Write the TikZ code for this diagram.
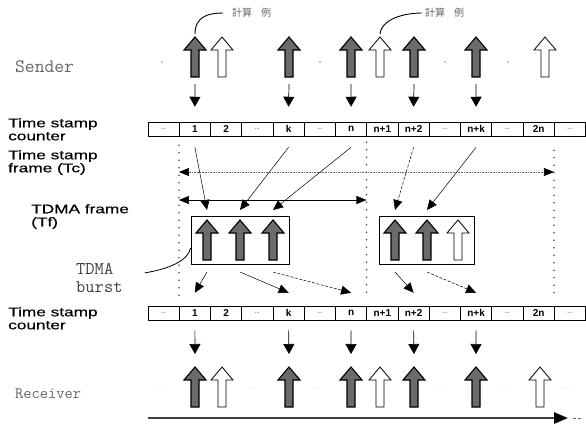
\documentclass[tikz,border=0pt]{standalone}
\usepackage{fontspec}
\setsansfont{Liberation Sans}
\newfontfamily\lblfont{Liberation Sans}[FakeStretch=1.38,FakeBold=0.5]
\newfontfamily\cjkfont{Noto Sans CJK JP}
\usetikzlibrary{arrows.meta,positioning,fit}
\newcommand{\gdots}{\textcolor{black!45}{\fontsize{6}{6}\selectfont...}}

\begin{document}
\begin{tikzpicture}[x=1pt,y=-1pt,
  uparr/.pic={
    \path[pic actions] (0,0) -- (11,13) -- (4,13) -- (4,40) -- (-4,40) -- (-4,13) -- (-11,13) -- cycle;
    \coordinate (-top) at (0,0);
    \coordinate (-bot) at (0,40);
    \coordinate (-nw) at (-11,0);
    \coordinate (-se) at (11,40);
  },
  garr/.style={fill=black!58, draw=black, line width=1.1pt},
  warr/.style={fill=white, draw=black, line width=0.8pt},
  cell/.style={draw, line width=0.5pt, minimum width=31.25pt, minimum height=14pt, inner sep=0pt,
    font=\sffamily\bfseries\fontsize{10}{10}\selectfont},
  lbl/.style={anchor=north west, align=left, inner sep=0pt, font=\lblfont\fontsize{12.5}{13}\selectfont},
  typelbl/.style={anchor=west, inner sep=0pt, text=black!60},
  cjk/.style={anchor=west, inner sep=0pt, text=black!60, font=\cjkfont\fontsize{10}{10}\selectfont},
  downarr/.style={line width=0.7pt, -{Triangle[length=10pt,width=11pt]}},
  slant/.style={line width=0.5pt, -{Triangle[length=10pt,width=9pt]}},
  slantd/.style={slant, dash pattern=on 3pt off 1.5pt},
  vdots/.style={line width=1.6pt, dash pattern=on 0pt off 7.5pt, line cap=round, black!70},
  tcline/.style={densely dotted, line width=0.6pt, black!60,
    {Triangle[length=10pt,width=8pt,black]}-{Triangle[length=10pt,width=8pt,black]}},
  tfline/.style={line width=0.6pt, {Triangle[length=10pt,width=8pt]}-{Triangle[length=10pt,width=8pt]}},
  burstbox/.style={draw, line width=0.8pt, inner xsep=5pt, inner ysep=4pt},
  timeaxis/.style={line width=2.5pt, black!75, -{Triangle[length=14pt,width=11pt,black]}}
]
\useasboundingbox (0,0) rectangle (586,424);

% left labels
\node[typelbl, font=\ttfamily\fontsize{19}{19}\selectfont] (sender) at (15,67) {Sender};
\node[lbl] (tsc1) at (8,118) {Time stamp\\counter};
\node[lbl] (tsf) at (8,150) {Time stamp\\frame (Tc)};
\node[lbl] (tdf) at (31,204) {TDMA frame\\(Tf)};
\node[anchor=north west, align=left, inner sep=0pt, text=black!75,
  font=\ttfamily\fontsize{18}{18}\selectfont] (burst) at (76,263) {TDMA\\burst};
\node[lbl] (tsc2) at (8,307) {Time stamp\\counter};
\node[typelbl, font=\ttfamily\fontsize{16}{16}\selectfont] (receiver) at (15,394) {Receiver};

% time stamp counters
\foreach \lab [count=\i from 0] in {\gdots,1,2,\gdots,k,\gdots,n,n+1,n+2,\gdots,n+k,\gdots,2n,\gdots}{
  \node[cell] (c1-\i) at ({163.6+31.25*\i},129) {\lab};
  \node[cell] (c2-\i) at ({163.6+31.25*\i},313) {\lab};
}

% sender
\foreach \x/\st [count=\i] in {195/garr,222/warr,289/garr,351/garr,380/warr,414/garr,476/garr,545/warr}
  \pic[\st] (s\i) at (\x,37) {uparr};
\foreach \x in {162,320,445,508}
  \fill[black!45] (\x,62) circle (0.8);

% example labels
\node[cjk] (ex1) at (232,13) {計算\hspace{0.9em}例};
\node[cjk] (ex2) at (425,13) {計算\hspace{0.9em}例};
\draw[line width=0.9pt] ([yshift=3pt]s1-top) .. controls +(0,-18) and +(-14,0) .. ([xshift=-9pt]ex1.west);
\draw[line width=0.9pt] ([yshift=3pt]s5-top) .. controls +(2,-16) and +(-16,0) .. ([xshift=-3pt]ex2.west);

\foreach \s/\c in {1/1,3/4,4/6,6/8,7/10}
  \draw[downarr] ([yshift=-7pt]s\s-bot) -- ([yshift=15pt]c1-\c.north);

% frame limits
\coordinate (tcy) at (0,172);
\coordinate (tfy) at (0,200);
\draw[vdots] ([yshift=-9pt]c1-1.south west) -- ([yshift=6pt]c2-1.north west);
\draw[vdots] ([yshift=-6pt]c1-7.south west) -- ([yshift=6pt]c2-7.north west);
\draw[vdots] ([yshift=-14pt]c1-13.south west) -- ([yshift=8pt]c2-13.north west);
\draw[tcline] (c1-1.south west |- tcy) -- (c1-13.south west |- tcy);
\draw[tfline] (c1-1.south west |- tfy) -- (c1-7.south west |- tfy);

% TDMA bursts
\foreach \x/\st [count=\i] in {207/garr,240/garr,273/garr,395/garr,427/garr,458/warr}
  \pic[\st] (b\i) at (\x,220) {uparr};
\node[burstbox, fit=(b1-nw)(b3-se)] (box1) {};
\node[burstbox, fit=(b4-nw)(b6-se)] (box2) {};
\draw[line width=0.8pt] ([xshift=22pt,yshift=5pt]burst.east) .. controls +(25,-4) and +(-2,12) .. ([yshift=-8pt]box1.west);

\foreach \c/\b/\st in {1/1/slant,4/2/slant,6/3/slant,8/4/slantd,10/5/slant}
  \draw[\st] ([yshift=-11pt]c1-\c.south) -- ([yshift=10pt]b\b-top);
\foreach \b/\c/\st in {1/1/slant,2/4/slant,3/6/slantd,4/8/slant,5/10/slantd}
  \draw[\st] ([yshift=-12pt]b\b-bot) -- ([yshift=13pt]c2-\c.north);

% receiver
\foreach \x/\st [count=\i] in {195/garr,222/warr,289/garr,351/garr,380/warr,414/garr,476/garr,540/warr}
  \pic[\st] (r\i) at (\x,367) {uparr};
\foreach \x in {162,253,317,442,503,566}
  \node[inner sep=0pt] (rd) at (\x,388) {\gdots};
\foreach \c/\r in {1/1,4/3,6/4,8/6,10/7}
  \draw[downarr] ([yshift=-10pt]c2-\c.south) -- ([yshift=13pt]r\r-top);

% time axis
\draw[timeaxis] (148,418) -- (568,418);
\draw[black!60, line width=0.6pt, dash pattern=on 3pt off 2pt] (573,418) -- (583,418);

\end{tikzpicture}
\end{document}
